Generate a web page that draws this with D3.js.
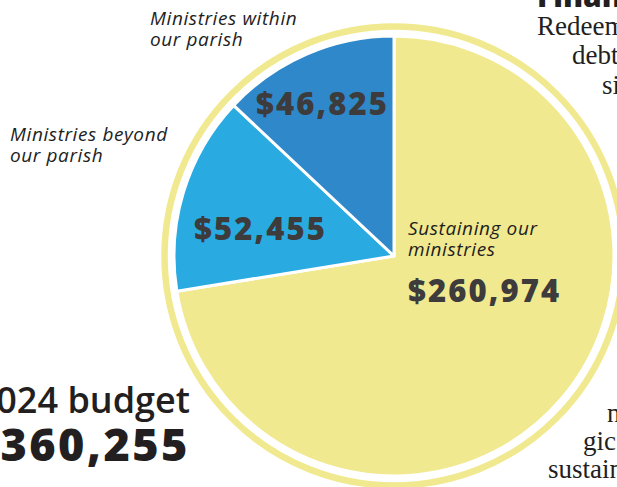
<!DOCTYPE html>
<html><head><meta charset="utf-8">
<script src="https://cdn.jsdelivr.net/npm/d3@7"></script>
<style>html,body{margin:0;padding:0;background:#fff;overflow:hidden}</style>
</head><body>
<svg id="c" width="617" height="487"></svg>
<script>
const categories = ["Sustaining our ministries", "Ministries beyond our parish", "Ministries within our parish"];
const values = [260974, 52455, 46825];
const valueLabels = ["$260,974", "$52,455", "$46,825"];
const colors = ["#F1E98F", "#29ABE2", "#2F88C9"];
const totalLabel = "2024 budget";
const totalValue = "$360,255";

const svg = d3.select("#c");
const cx = 394, cy = 256, r = 220;
const g = svg.append("g").attr("transform", `translate(${cx},${cy})`);

g.append("circle").attr("r", 229.5).attr("fill", "none")
  .attr("stroke", "#F1E98F").attr("stroke-width", 6.5);

const pie = d3.pie().sort(null).value(d => d)(values);
const arc = d3.arc().innerRadius(0).outerRadius(r);
g.selectAll("path.s").data(pie).join("path").attr("class", "s")
  .attr("d", arc).attr("fill", (d, i) => colors[i])
  .attr("stroke", "#fff").attr("stroke-width", 3).attr("stroke-linejoin", "round");

const sans = "'Open Sans', 'Noto Sans', sans-serif";
const valStyle = s => s.attr("font-family", sans).attr("font-weight", 800)
  .attr("font-size", 31).attr("letter-spacing", 2.1).attr("fill", "#3d3b3b");
const labStyle = s => s.attr("font-family", sans).attr("font-style", "italic")
  .attr("font-weight", 500).attr("font-size", 19).attr("letter-spacing", 0.6).attr("fill", "#1e1e1e");

// value labels
const valPos = [[408, 302], [194, 240], [256, 115]];
valueLabels.forEach((t, i) => {
  svg.append("text").attr("x", valPos[i][0]).attr("y", valPos[i][1]).text(t).call(valStyle);
});

// category labels
const labLines = [["Sustaining our", "ministries"], ["Ministries beyond", "our parish"], ["Ministries within", "our parish"]];
const labPos = [[408, 235], [10, 141], [150, 25]];
labLines.forEach((lines, i) => {
  lines.forEach((l, j) => {
    svg.append("text").attr("x", labPos[i][0]).attr("y", labPos[i][1] + j * 21).text(l).call(labStyle);
  });
});

// total
svg.append("text").attr("x", 190).attr("y", 413).attr("text-anchor", "end")
  .attr("font-family", sans).attr("font-weight", 600).attr("font-size", 36)
  .attr("fill", "#231f20").text(totalLabel);
svg.append("text").attr("x", 190).attr("y", 461).attr("text-anchor", "end")
  .attr("font-family", sans).attr("font-weight", 800).attr("font-size", 45)
  .attr("letter-spacing", 2.5).attr("fill", "#231f20").text(totalValue);

// surrounding page text (cropped)
const serif = "'Liberation Serif', 'DejaVu Serif', serif";
svg.append("text").attr("x", 537).attr("y", 7).attr("font-family", sans)
  .attr("font-weight", 800).attr("font-size", 30).attr("fill", "#231f20").text("Finances");
const bodyLines = [["Redeemer", 537, 35], ["debt", 572, 64], ["since", 602, 94],
  ["n", 607, 422], ["gic", 583, 450], ["sustain", 548, 478]];
bodyLines.forEach(([t, x, y]) => {
  svg.append("text").attr("x", x).attr("y", y).attr("font-family", serif)
    .attr("font-size", 27).attr("fill", "#231f20").text(t);
});
</script>
</body></html>
